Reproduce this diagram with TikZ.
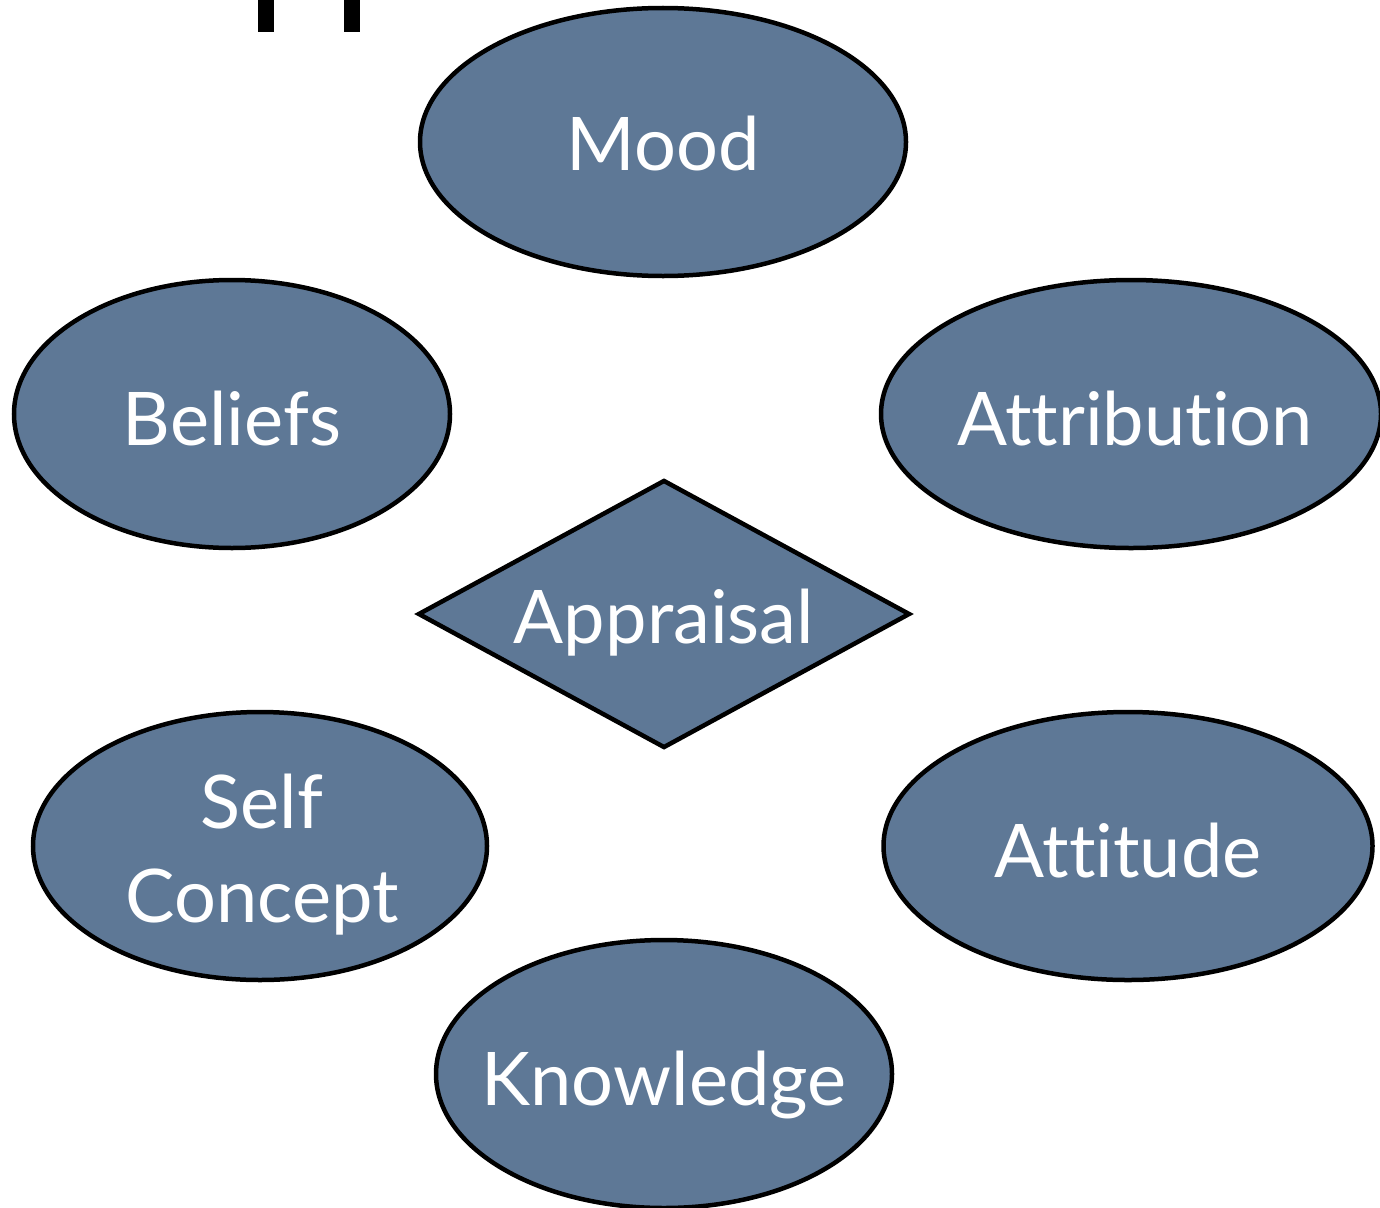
\documentclass[tikz,border=0pt]{standalone}
\usepackage{fontspec}
\setmainfont{Lato}[Ligatures=NoCommon]
\usetikzlibrary{shapes.geometric}

\definecolor{slateblue}{RGB}{94,120,150}

\tikzset{
  bubble/.style={ellipse, draw=black, line width=4.5pt, fill=slateblue, inner sep=0pt,
    minimum height=268},
  rhomb/.style={diamond, draw=black, line width=4.5pt, fill=slateblue, inner sep=0pt},
  label/.style={text=white, anchor=base, inner sep=0pt, font=\fontsize{74}{90}\selectfont}
}

\begin{document}
\begin{tikzpicture}[x=1pt,y=1pt,yscale=-1,xscale=1]
\useasboundingbox (0,0) rectangle (1380,1207);

%Title descenders cut off at top
\fill (258,0) rectangle (274,32);
\fill (344,0) rectangle (360,32);

%Ellipse: Mood
\node [bubble, minimum width=486] (mood) at (663,142) {};
%Ellipse: Beliefs
\node [bubble, minimum width=436] (beliefs) at (232,414) {};
%Ellipse: Attribution
\node [bubble, minimum width=500] (attribution) at (1131,414) {};
%Diamond: Appraisal
\node [rhomb, aspect=1.836, minimum width=492, minimum height=268] (appraisal) at (664,614) {};
%Ellipse: Self Concept
\node [bubble, minimum width=454] (selfconcept) at (260,846) {};
%Ellipse: Attitude
\node [bubble, minimum width=489] (attitude) at (1128,846) {};
%Ellipse: Knowledge
\node [bubble, minimum width=456] (knowledge) at (664,1074) {};

% Text Node
\node [label] (moodtext) at (663,170) {Mood};
% Text Node
\node [label] (beliefstext) at (232,445) {Beliefs};
% Text Node
\node [label] (attributiontext) at (1135,445) {Attribution};
% Text Node
\node [label] (appraisaltext) at (664,643) {Appraisal};
% Text Node
\node [label] (selftext) at (262,828) {Self};
% Text Node
\node [label] (concepttext) at (262,922) {Concept};
% Text Node
\node [label] (attitudetext) at (1128,877) {Attitude};
% Text Node
\node [label] (knowledgetext) at (664,1105) {Knowledge};

\end{tikzpicture}
\end{document}
